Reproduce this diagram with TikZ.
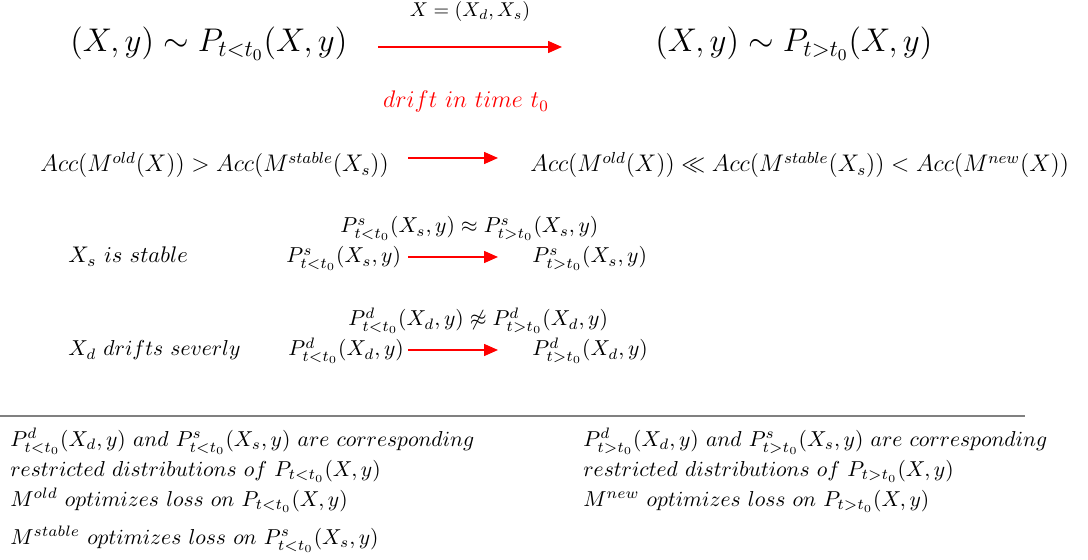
\RequirePackage{fix-cm}
\documentclass[tikz,border=0pt]{standalone}
\usetikzlibrary{arrows.meta, positioning}

\begin{document}
\begin{tikzpicture}[
    x=0.5pt, y=-0.5pt,
    every node/.style={inner sep=0pt},
    accformula/.style={anchor=base west, font=\large},
    formula/.style={anchor=base west, font=\fontsize{10.8}{15}\selectfont},
    bigformula/.style={anchor=base west, font=\fontsize{16.4}{19}\selectfont},
    note/.style={anchor=north west, align=left, font=\fontsize{10.8}{15}\selectfont},
    arrow/.style={-{Triangle[length=7pt, width=6pt]}, red, line width=0.75pt}
]
\useasboundingbox (0,0) rectangle (1088,560);

% distributions before and after the drift
\node[bigformula] (before) at (70,52) {$(X,y)\sim P_{t<t_0}(X,y)$};
\node[bigformula] (after) at (655,52) {$(X,y)\sim P_{t>t_0}(X,y)$};
\coordinate (driftA) at (378,47);
\coordinate (driftB) at (562,47);
\draw[arrow] (driftA) -- (driftB);
\node[anchor=base] (split) at (470,17) {$X=(X_d,X_s)$};
\node[anchor=base, font=\large, text=red] (drift) at (466,108) {$drift\ in\ time\ t_0$};

% accuracy of the models
\node[accformula] (accold) at (40,172) {$Acc(M^{old}(X)) > Acc(M^{stable}(X_s))$};
\node[accformula] (accnew) at (530,172) {$Acc(M^{old}(X)) \ll Acc(M^{stable}(X_s)) < Acc(M^{new}(X))$};
\coordinate (accA) at (408,158);
\coordinate (accB) at (498,158);
\draw[arrow] (accA) -- (accB);

% stable features
\node[formula, font=\fontsize{11.3}{15}\selectfont] (xs) at (68,263) {$X_s\ is\ stable$};
\node[formula] (psold) at (286,263) {$P^s_{t<t_0}(X_s,y)$};
\node[formula] (psnew) at (532,263) {$P^s_{t>t_0}(X_s,y)$};
\node[formula] (psrel) at (340,233) {$P^s_{t<t_0}(X_s,y)\approx P^s_{t>t_0}(X_s,y)$};
\coordinate (sA) at (408,257);
\coordinate (sB) at (498,257);
\draw[arrow] (sA) -- (sB);

% drifting features
\node[formula] (xd) at (68,356) {$X_d\ drifts\ severly$};
\node[formula] (pdold) at (288,356) {$P^d_{t<t_0}(X_d,y)$};
\node[formula] (pdnew) at (532,356) {$P^d_{t>t_0}(X_d,y)$};
\node[formula] (pdrel) at (348,326) {$P^d_{t<t_0}(X_d,y)\not\approx P^d_{t>t_0}(X_d,y)$};
\coordinate (dA) at (408,350);
\coordinate (dB) at (498,350);
\draw[arrow] (dA) -- (dB);

\draw[gray, line width=1pt] (0,416) -- (1025,416);

% notes
\node[note] (oldnotes) at (10,428) {$P^d_{t<t_0}(X_d,y)\ and\ P^s_{t<t_0}(X_s,y)\ are\ corresponding$\\
    $restricted\ distributions\ of\ P_{t<t_0}(X,y)$\\
    $M^{old}\ optimizes\ loss\ on\ P_{t<t_0}(X,y)$\\[4pt]
    $M^{stable}\ optimizes\ loss\ on\ P^s_{t<t_0}(X_s,y)$};
\node[note] (newnotes) at (583,428) {$P^d_{t>t_0}(X_d,y)\ and\ P^s_{t>t_0}(X_s,y)\ are\ corresponding$\\
    $restricted\ distributions\ of\ P_{t>t_0}(X,y)$\\
    $M^{new}\ optimizes\ loss\ on\ P_{t>t_0}(X,y)$};

\end{tikzpicture}
\end{document}
